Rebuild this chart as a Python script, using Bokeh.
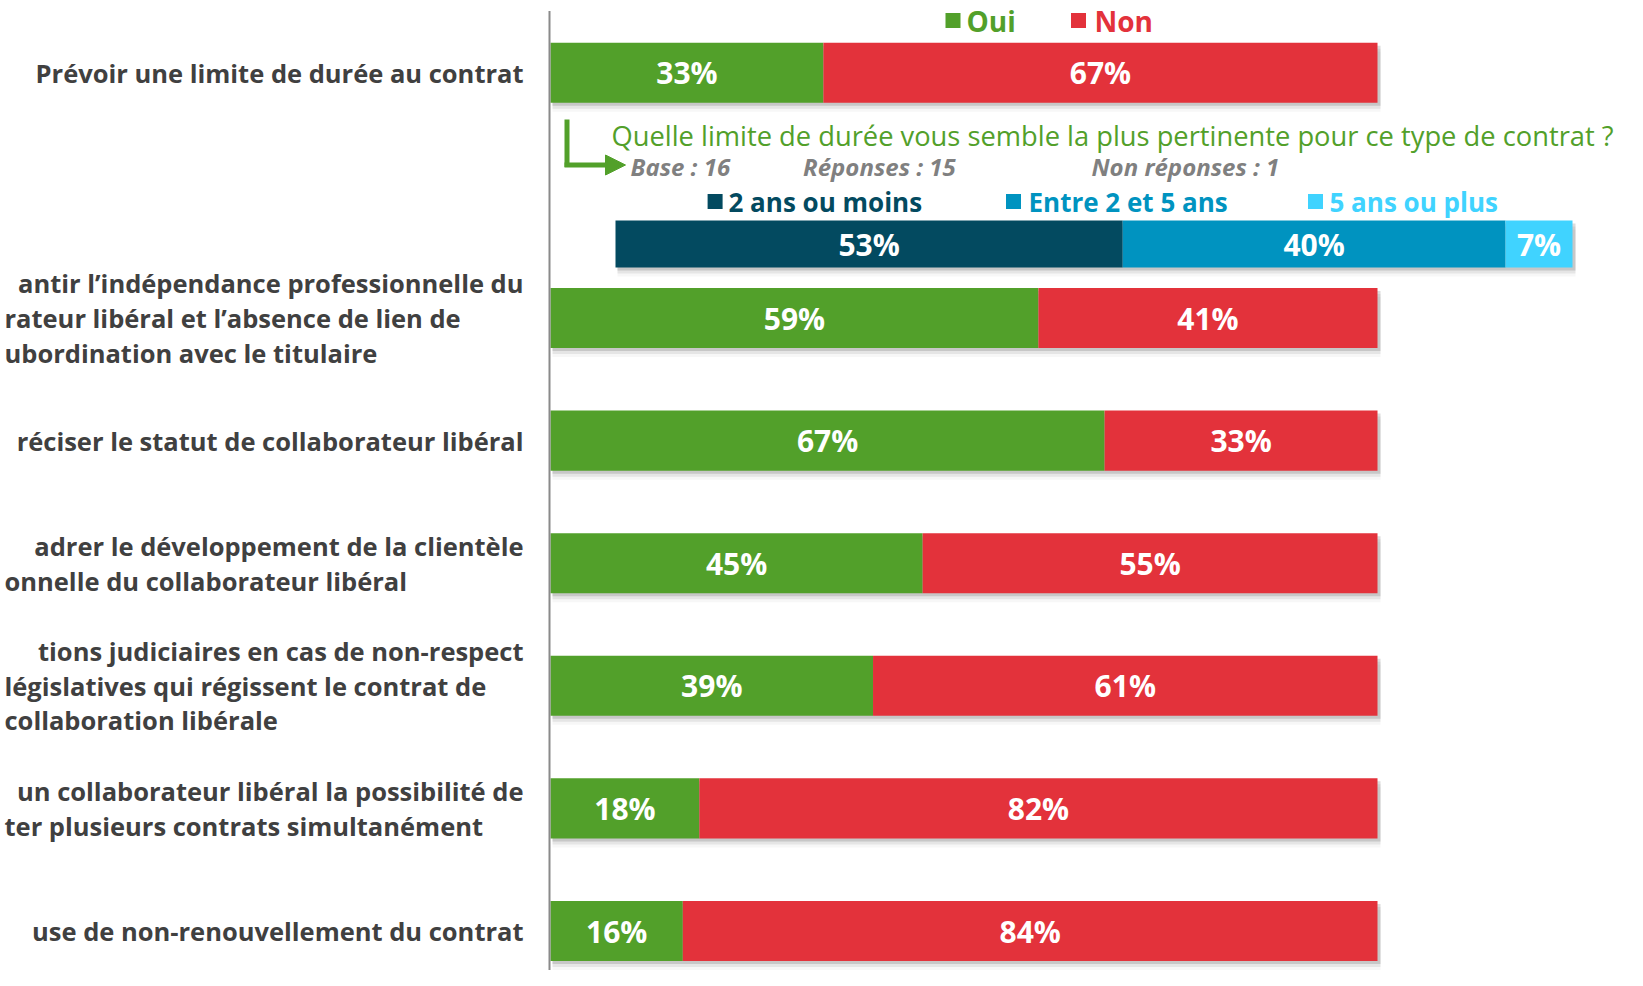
from bokeh.plotting import figure
from bokeh.models import Range1d, Label, Arrow, NormalHead
from bokeh.core.properties import value
from bokeh.embed import file_html
from bokeh.resources import INLINE

# ---------------- data ----------------
categories = [
    ["Prévoir une limite de durée au contrat"],
    ["antir l’indépendance professionnelle du",
     "rateur libéral et l’absence de lien de",
     "ubordination avec le titulaire"],
    ["réciser le statut de collaborateur libéral"],
    ["adrer le développement de la clientèle",
     "onnelle du collaborateur libéral"],
    ["tions judiciaires en cas de non-respect",
     "législatives qui régissent le contrat de",
     "collaboration libérale"],
    ["un collaborateur libéral la possibilité de",
     "ter plusieurs contrats simultanément"],
    ["use de non-renouvellement du contrat"],
]
series = ["Oui", "Non"]
oui = [33, 59, 67, 45, 39, 18, 16]
non = [67, 41, 33, 55, 61, 82, 84]

question = "Quelle limite de durée vous semble la plus pertinente pour ce type de contrat ?"
base_texts = ["Base : 16", "Réponses : 15", "Non réponses : 1"]
sub_labels = ["2 ans ou moins", "Entre 2 et 5 ans", "5 ans ou plus"]
sub_values = [53, 40, 7]

# ---------------- styles ----------------
GREEN = "#52a02a"
RED = "#e3323b"
SUB_COLORS = ["#034a60", "#0093c0", "#40d3ff"]
LABEL_COLOR = "#404040"
GRAY = "#808080"
FONT = "Open Sans"

# ---------------- geometry helpers (reference pixels -> data) ----------------
W, H, OFF = 1627, 970, 0
X0, X100 = 550.0, 1377.0
SX = (X100 - X0) / 100.0
Y0, DY = 72.3, 122.6
S0, S100 = 615.0, 1572.0
SSX = (S100 - S0) / 100.0


def X(fx):
    return (fx - X0) / SX


def XS(fx):
    return (fx - S0) / SSX


def Y(fy):
    return (fy - Y0) / DY


p = figure(width=W, height=H, output_backend="svg", toolbar_location=None,
           x_range=Range1d(X(OFF), X(OFF + W)),
           y_range=Range1d(Y(OFF + H), Y(OFF)),
           x_axis_type=None, y_axis_type=None, min_border=0,
           outline_line_color=None)
p.grid.visible = False
p.extra_x_ranges = {"sub": Range1d(XS(OFF), XS(OFF + W))}

# slots: first item, then a gap for the follow-up question, then the rest
slots = [0] + list(range(2, 2 + len(categories) - 1))
bar_h = 0.49

# shadows
for off_px, alpha in [(3, 0.22), (6, 0.12), (9, 0.05)]:
    p.quad(left=[X(X0 + 2)] * len(slots), right=[100 + 3 / SX] * len(slots),
           top=[s - bar_h / 2 + off_px / DY for s in slots],
           bottom=[s + bar_h / 2 + off_px / DY for s in slots],
           fill_color="#606060", fill_alpha=alpha, line_color=None)

non_right = [o + n for o, n in zip(oui, non)]
p.hbar(y=slots, left=0, right=oui, height=bar_h, fill_color=GREEN, line_color=None)
p.hbar(y=slots, left=oui, right=non_right, height=bar_h, fill_color=RED, line_color=None)

txt_kw = dict(text_align="center", text_baseline="middle", text_color="white",
              text_font=value(FONT), text_font_style="bold", text_font_size="30px")
p.text(x=[o / 2 for o in oui], y=slots, text=[f"{o}%" for o in oui], **txt_kw)
p.text(x=[o + n / 2 for o, n in zip(oui, non)], y=slots, text=[f"{n}%" for n in non], **txt_kw)

# sub bar
sub_y = Y(243.6)
sub_h = 47 / DY
sub_left, acc = [], 0
for v in sub_values:
    sub_left.append(acc)
    acc += v
sub_right = [l + v for l, v in zip(sub_left, sub_values)]
for off_px, alpha in [(3, 0.22), (6, 0.12), (9, 0.05)]:
    p.quad(left=[XS(S0 + 2)], right=[100 + 3 / SSX],
           top=[sub_y - sub_h / 2 + off_px / DY], bottom=[sub_y + sub_h / 2 + off_px / DY],
           fill_color="#606060", fill_alpha=alpha, line_color=None, x_range_name="sub")
p.hbar(y=[sub_y] * 3, left=sub_left, right=sub_right, height=sub_h,
       fill_color=SUB_COLORS, line_color=None, x_range_name="sub")
p.text(x=[(l + r) / 2 for l, r in zip(sub_left, sub_right)], y=[sub_y] * 3,
       text=[f"{v}%" for v in sub_values], x_range_name="sub", **txt_kw)

# vertical axis line
p.segment(x0=[X(549)], y0=[Y(10.5)], x1=[X(549)], y1=[Y(OFF + H)],
          line_color="#8a8a8a", line_width=2)

# category labels
lab_kw = dict(text_color=LABEL_COLOR, text_font=value(FONT), text_font_style="bold",
              text_font_size="25.5px", text_baseline="middle")
line_gap = 34.6 / DY
rx, ry, rt = [], [], []
lx, ly, lt = [], [], []
for s, lines in zip(slots, categories):
    n = len(lines)
    for i, line in enumerate(lines):
        yy = s + (i - (n - 1) / 2) * line_gap
        if i == 0:
            rx.append(X(523)); ry.append(yy); rt.append(line)
        else:
            lx.append(X(4)); ly.append(yy); lt.append(line)
p.text(x=rx, y=ry, text=rt, text_align="right", **lab_kw)
p.text(x=lx, y=ly, text=lt, text_align="left", **lab_kw)

# main legend
leg_y = Y(20)
p.scatter(x=[X(952.5), X(1078)], y=[leg_y, leg_y], marker="square", size=15,
          fill_color=[GREEN, RED], line_color=None)
for txt, fx, col in zip(series, [966, 1094], [GREEN, RED]):
    p.add_layout(Label(x=X(fx), y=leg_y, text=txt, text_color=col, text_font=FONT,
                       text_font_style="bold", text_font_size="28px",
                       text_baseline="middle", text_align="left"))

# follow-up question
p.add_layout(Label(x=X(611), y=Y(135), text=question, text_color=GREEN,
                   text_font=FONT, text_font_size="27.3px",
                   text_baseline="middle", text_align="left"))
for txt, fx in zip(base_texts, [630, 802.6, 1091]):
    p.add_layout(Label(x=X(fx), y=Y(165.5), text=txt, text_color=GRAY,
                       text_font=FONT, text_font_style="bold italic",
                       text_font_size="24px", text_baseline="middle", text_align="left"))

# arrow
p.segment(x0=[X(566.5)], y0=[Y(119)], x1=[X(566.5)], y1=[Y(166.5)],
          line_color=GREEN, line_width=5)
p.add_layout(Arrow(end=NormalHead(size=20, fill_color=GREEN, line_color=GREEN),
                   x_start=X(564), y_start=Y(164.5), x_end=X(625), y_end=Y(164.5),
                   line_color=GREEN, line_width=5))

# sub legend
sq_x = [714.6, 1013, 1315]
tx_x = [728, 1028, 1329]
p.scatter(x=[X(v) for v in sq_x], y=[Y(201)] * 3, marker="square", size=15,
          fill_color=SUB_COLORS, line_color=None)
for txt, fx, col in zip(sub_labels, tx_x, SUB_COLORS):
    p.add_layout(Label(x=X(fx), y=Y(201), text=txt, text_color=col, text_font=FONT,
                       text_font_style="bold", text_font_size="26px",
                       text_baseline="middle", text_align="left"))

open("out.html", "w").write(file_html(p, INLINE))
